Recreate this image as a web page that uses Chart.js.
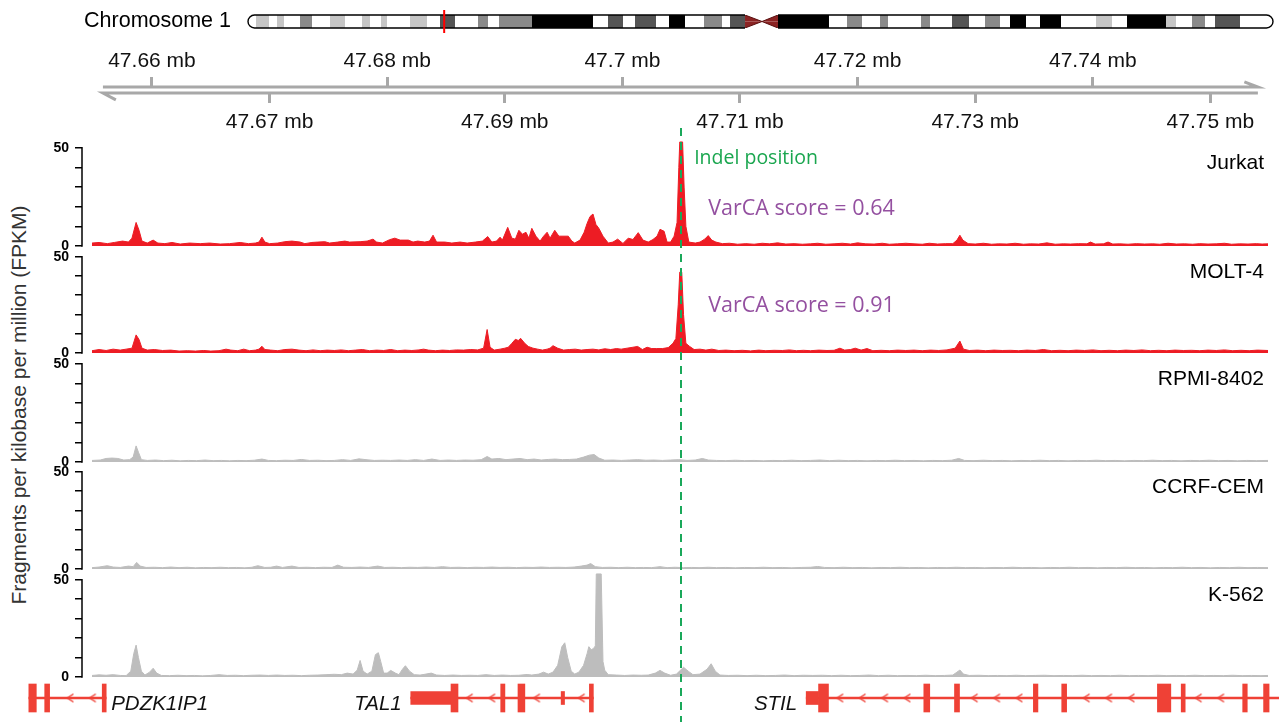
<!DOCTYPE html>
<html lang="en">
<head>
<meta charset="UTF-8">
<script src="https://cdn.jsdelivr.net/npm/chart.js"></script>
<title>TAL1 locus accessibility</title>
<style>
  body { margin: 0; background: #fff; }
  #wrap { position: relative; width: 1284px; height: 722px; overflow: hidden; font-family: "Liberation Sans", Arial, sans-serif; }
  #wrap canvas { position: absolute; left: 0; }
  #ytitle { position: absolute; left: 19px; top: 405px; transform: translate(-50%, -50%) rotate(-90deg);
            white-space: nowrap; font-size: 21px; color: #333; }
</style>
</head>
<body>
<div id="wrap">
  <div id="ytitle">Fragments per kilobase per million (FPKM)</div>
</div>

<script>
// ---- data (track positions are kb from regionStartMb) ----
const regionStartMb = 47.65;
const indelKb = 55.0;
const trackNames = ['Jurkat', 'MOLT-4', 'RPMI-8402', 'CCRF-CEM', 'K-562'];
const varcaScores = [0.64, 0.91, null, null, null];

const jurkat = [[4.9,1.5],[5.5,1.8],[6.2,1.2],[6.8,1.8],[7.5,2.5],[8.0,2.0],[8.3,4],[8.65,12],[8.9,8],[9.15,2.5],[9.6,1.5],[10.1,3],[10.5,1.5],[11.1,1.2],[11.7,1.8],[12.4,1.0],[13.2,1.5],[14.1,1.2],[14.9,1.5],[15.8,1.0],[16.6,1.2],[17.5,1.8],[18.2,1.2],[18.8,1.5],[19.1,2],[19.35,4.5],[19.6,2],[20.0,1.2],[20.7,1.5],[21.3,2.2],[21.9,2.5],[22.6,2],[23.0,1.2],[23.6,1.8],[24.1,2],[24.7,2.2],[25.1,1.5],[25.8,2],[26.4,2.5],[26.8,2],[27.7,2.2],[28.3,2.5],[28.8,3.5],[29.1,2],[29.6,1.5],[30.2,3.2],[30.65,4],[31.1,3],[31.8,3],[32.2,2],[32.6,2.5],[33.2,2],[33.6,2.5],[33.9,5.5],[34.2,2],[34.9,2],[35.5,1.5],[36.2,2],[36.8,1.5],[37.5,2],[38.1,2.5],[38.55,4.8],[38.9,2],[39.3,2.5],[39.6,4.5],[39.8,3],[40.25,9.5],[40.6,4],[40.9,3.5],[41.2,8],[41.5,6],[41.8,7],[42.05,4],[42.3,9],[42.65,5],[43.0,2.5],[43.3,5],[43.6,7],[43.85,4],[44.25,8],[44.6,5],[44.95,5],[45.4,5],[45.7,2.5],[45.95,1.5],[46.4,3],[46.75,7],[47.0,11.5],[47.25,15],[47.5,16.3],[47.75,11],[48.0,9],[48.35,5],[48.8,1.5],[49.2,2],[49.6,3.5],[50.05,1.3],[50.5,4],[50.9,3.3],[51.35,6.8],[51.75,3],[52.2,2],[52.6,3.3],[52.95,5],[53.2,8.5],[53.55,7.5],[53.8,2],[54.1,2],[54.4,5],[54.65,12],[54.8,40],[54.88,53],[55.12,53],[55.25,30],[55.4,10],[55.65,2],[56.2,1.5],[56.6,2],[57.0,3.5],[57.3,5.3],[57.6,3],[57.95,2],[58.5,1.2],[59.1,1.4],[59.8,0.9],[60.5,1.2],[61.2,0.9],[61.9,1.4],[62.5,1.1],[63.2,1.6],[63.9,1.0],[64.6,1.2],[65.3,0.9],[66.0,1.1],[66.6,1.4],[67.3,0.9],[68.0,1.1],[68.7,1.4],[69.4,1.0],[70.0,1.6],[70.7,1.1],[71.4,1.0],[72.1,1.4],[72.7,0.9],[73.4,1.1],[74.1,1.4],[74.8,1.1],[75.5,0.9],[76.1,1.4],[76.8,1.0],[77.5,1.2],[78.1,1.2],[78.45,3],[78.7,5.5],[78.95,3],[79.4,1.2],[80.0,1.0],[80.7,1.4],[81.4,0.9],[82.0,1.1],[82.7,1.0],[83.4,1.4],[84.1,0.9],[84.7,1.1],[85.4,1.0],[86.1,1.6],[86.8,0.9],[87.5,1.1],[88.1,1.0],[88.8,1.2],[89.5,1.1],[89.8,2.0],[90.2,1.0],[90.9,1.1],[91.3,2.0],[91.7,1.0],[92.3,1.1],[93.0,0.9],[93.7,1.2],[94.4,1.0],[95.1,1.1],[95.7,0.9],[96.4,1.4],[97.1,1.0],[97.8,1.1],[98.5,0.9],[99.1,1.2],[99.8,1.0],[100.5,1.1],[101.2,1.4],[101.8,0.9],[102.5,1.1],[103.2,1.0],[103.9,1.2],[104.4,1.0],[104.9,1.1]];

const molt4 = [[4.9,1.2],[5.5,1.8],[6.1,1.3],[6.7,2],[7.3,1.5],[7.8,2],[8.3,2.5],[8.65,9.4],[8.9,7],[9.15,2.5],[9.6,1.5],[10.2,1.8],[10.9,1.3],[11.6,1.5],[12.3,1],[13.0,1.2],[13.7,1],[14.4,1.3],[15.0,1],[15.7,1.2],[16.3,2],[16.7,1.5],[17.3,1.2],[17.8,2],[18.3,1.2],[18.8,1.5],[19.1,2],[19.35,3.5],[19.6,1.8],[20.1,1.5],[20.7,1.2],[21.3,1.8],[21.9,2],[22.5,1.5],[23.1,1.2],[23.7,1.6],[24.3,1.2],[24.9,1.5],[25.5,1.3],[26.1,1.6],[26.7,1.2],[27.3,1.5],[27.9,1.8],[28.5,1.2],[29.1,1.5],[29.7,1.3],[30.3,1.8],[30.9,1.2],[31.5,1.5],[32.1,1.3],[32.7,1.6],[33.1,2],[33.5,1.5],[34.1,1.2],[34.7,1.5],[35.3,1.3],[35.9,1.6],[36.5,1.5],[37.1,1.8],[37.7,1.6],[38.2,2.5],[38.5,12.2],[38.75,3],[39.1,1.5],[39.6,2],[40.0,2.5],[40.3,3],[40.6,5],[40.9,7.1],[41.15,6.5],[41.35,7.6],[41.7,5],[42.0,3.4],[42.4,2.5],[42.8,2],[43.2,1.5],[43.6,2],[43.85,2.5],[44.1,3.8],[44.5,2.5],[45.0,1.5],[45.5,1.8],[46.0,2],[46.5,1.5],[47.0,1.8],[47.5,2],[48.0,1.6],[48.5,2.2],[49.0,1.8],[49.5,2.3],[49.9,2],[50.4,2.5],[50.9,3],[51.3,3.4],[51.7,1.8],[52.1,3],[52.5,2.3],[52.9,2.3],[53.4,2.3],[53.9,2.8],[54.3,5],[54.55,7.5],[54.75,25],[54.88,42],[55.05,42],[55.2,20],[55.4,5],[55.7,3.5],[56.1,1.8],[56.6,2],[57.1,1.5],[57.6,2],[58.2,1.3],[58.8,1.5],[59.5,1.2],[60.2,1.4],[60.9,1.1],[61.6,1.5],[62.2,1.2],[62.9,1.4],[63.6,1.3],[64.2,1.6],[64.8,1.2],[65.4,1.4],[66.0,1.2],[66.7,1.5],[67.4,1.3],[68.0,1.4],[68.5,2.5],[68.9,1.5],[69.4,1.8],[69.8,2.5],[70.3,1.5],[70.8,2.3],[71.3,1.2],[72.0,1.4],[72.7,1.2],[73.4,1.5],[74.1,1.3],[74.8,1.5],[75.5,1.2],[76.2,1.5],[76.9,1.3],[77.6,1.6],[78.3,2.5],[78.7,6.2],[79.0,2],[79.5,1.3],[80.2,1.5],[80.9,1.2],[81.6,1.5],[82.3,1.3],[83.0,1.4],[83.7,1.2],[84.4,1.5],[85.1,1.3],[85.8,1.8],[86.5,1.2],[87.2,1.4],[87.9,1.2],[88.6,1.5],[89.3,1.3],[90.0,1.6],[90.7,1.2],[91.4,1.4],[92.1,1.2],[92.8,1.5],[93.5,1.3],[94.2,1.6],[94.9,1.2],[95.6,1.4],[96.3,1.2],[97.0,1.5],[97.7,1.3],[98.4,1.4],[99.1,1.2],[99.8,1.5],[100.5,1.3],[101.2,1.6],[101.9,1.2],[102.6,1.4],[103.3,1.2],[104.0,1.5],[104.9,1.3]];

const rpmi8402 = [[4.9,0.8],[5.6,1.0],[6.1,1.8],[6.6,2.0],[7.1,1.8],[7.6,1.0],[8.1,1.2],[8.4,2.5],[8.65,8.2],[8.85,5.0],[9.1,1.2],[9.6,0.8],[10.3,1.0],[11.0,0.7],[11.7,0.9],[12.4,0.6],[13.1,0.8],[13.8,0.7],[14.5,1.0],[15.2,0.7],[15.9,0.8],[16.6,0.6],[17.3,0.8],[18.0,0.7],[18.7,0.9],[19.35,1.5],[19.9,0.8],[20.6,0.7],[21.3,0.9],[22.0,0.8],[22.7,1.3],[23.4,0.8],[24.1,0.9],[24.8,0.7],[25.5,0.8],[26.2,1.2],[26.9,0.8],[27.6,1.6],[28.2,1.2],[28.9,0.8],[29.6,0.9],[30.3,0.8],[31.0,1.0],[31.7,0.8],[32.4,1.2],[33.1,0.8],[33.8,1.5],[34.5,0.8],[35.2,1.0],[35.9,0.8],[36.6,1.0],[37.3,0.9],[38.0,1.2],[38.5,2.8],[38.9,1.5],[39.5,1.8],[40.1,1.2],[40.7,1.5],[41.3,1.8],[41.9,1.2],[42.5,1.5],[43.1,1.0],[43.7,1.3],[44.3,1.5],[44.9,1.2],[45.5,1.3],[46.1,1.5],[46.7,2.5],[47.2,3.5],[47.6,3.8],[48.0,2.0],[48.5,0.9],[49.2,1.0],[49.9,0.8],[50.6,1.0],[51.3,1.2],[52.0,0.9],[52.7,1.0],[53.4,0.8],[54.1,1.0],[54.8,1.2],[55.5,0.8],[56.2,1.0],[56.8,1.8],[57.3,1.0],[58.0,0.8],[58.8,0.7],[59.6,0.9],[60.4,0.7],[61.2,0.8],[62.0,0.6],[62.8,0.8],[63.6,0.7],[64.4,0.9],[65.2,0.7],[66.0,0.8],[66.8,1.0],[67.6,0.7],[68.4,0.9],[69.2,0.7],[70.0,0.8],[70.8,0.6],[71.6,0.8],[72.4,0.7],[73.2,0.9],[74.0,0.7],[74.8,0.8],[75.6,0.6],[76.4,0.8],[77.2,0.7],[78.0,0.9],[78.6,1.8],[79.1,0.8],[79.9,0.7],[80.7,0.9],[81.5,0.7],[82.3,0.8],[83.1,0.6],[83.9,0.8],[84.7,0.7],[85.5,0.9],[86.3,0.7],[87.1,0.8],[87.9,0.6],[88.7,0.8],[89.5,0.7],[90.3,0.9],[91.1,0.7],[91.9,0.8],[92.7,0.6],[93.5,0.8],[94.3,0.7],[95.1,0.9],[95.9,0.7],[96.7,0.8],[97.5,0.6],[98.3,0.8],[99.1,0.7],[99.9,0.9],[100.7,0.7],[101.5,0.8],[102.3,0.6],[103.1,0.8],[103.9,0.7],[104.9,0.8]];

const ccrfCem = [[4.9,0.7],[5.5,1.0],[6.2,1.7],[6.7,1.0],[7.3,0.8],[8.0,1.5],[8.4,1.2],[8.7,3.4],[9.0,1.5],[9.5,0.8],[10.2,0.9],[10.9,0.7],[11.6,1.0],[12.3,0.7],[13.0,0.9],[13.7,0.6],[14.4,0.8],[15.1,0.7],[15.8,0.9],[16.5,0.7],[17.2,0.8],[17.9,0.6],[18.5,0.9],[19.0,1.7],[19.6,0.8],[20.1,0.9],[20.6,1.5],[21.1,0.8],[21.9,1.5],[22.5,0.8],[23.2,0.9],[23.9,0.7],[24.6,0.9],[25.3,0.8],[25.8,2.0],[26.3,0.9],[27.0,0.8],[27.7,1.0],[28.4,0.8],[29.2,1.5],[29.8,0.8],[30.5,0.9],[31.2,0.7],[31.9,0.9],[32.6,0.8],[33.3,1.0],[34.0,0.8],[34.7,1.2],[35.4,0.8],[36.1,0.9],[36.8,0.7],[37.5,0.9],[38.2,0.8],[38.9,1.0],[39.6,0.8],[40.3,0.9],[41.0,0.7],[41.7,0.9],[42.4,0.8],[43.1,1.0],[43.8,0.8],[44.5,0.9],[45.2,0.8],[45.9,1.0],[46.5,1.5],[47.0,2.0],[47.3,2.8],[47.7,1.2],[48.3,0.8],[49.0,0.9],[49.7,0.7],[50.4,0.9],[51.1,0.7],[51.8,0.8],[52.5,0.7],[53.2,1.2],[53.8,0.7],[54.5,0.9],[55.2,0.7],[55.9,0.8],[56.6,0.7],[57.3,0.9],[58.0,0.7],[58.8,0.8],[59.6,0.6],[60.4,0.8],[61.2,0.7],[62.0,0.9],[62.8,0.7],[63.6,0.8],[64.4,0.6],[65.2,0.8],[66.0,0.9],[66.6,1.3],[67.2,0.8],[68.0,0.7],[68.8,0.9],[69.6,0.7],[70.4,0.8],[71.2,0.6],[72.0,0.8],[72.8,0.7],[73.6,0.9],[74.4,0.7],[75.2,0.8],[76.0,0.6],[76.8,0.8],[77.6,0.7],[78.4,0.9],[79.2,0.7],[80.0,0.8],[80.8,0.6],[81.6,0.8],[82.4,0.7],[83.2,0.9],[84.0,0.7],[84.8,0.8],[85.6,0.6],[86.4,0.8],[87.2,0.7],[88.0,0.9],[88.8,0.7],[89.6,0.8],[90.4,0.6],[91.2,0.8],[92.0,0.7],[92.8,0.9],[93.6,0.7],[94.4,0.8],[95.2,0.6],[96.0,0.8],[96.8,0.7],[97.6,0.9],[98.4,0.7],[99.2,0.8],[100.0,0.6],[100.8,0.8],[101.6,0.7],[102.4,0.9],[103.2,0.7],[104.0,0.8],[104.9,0.7]];

const k562 = [[4.9,0.8],[5.5,1.1],[6.1,0.9],[6.7,1.2],[7.3,0.8],[7.8,0.7],[8.2,3],[8.45,12],[8.65,16.4],[8.85,10],[9.1,3],[9.4,1],[9.8,2.5],[10.1,4.5],[10.4,2],[10.8,0.8],[11.5,0.7],[12.2,0.9],[12.9,0.7],[13.6,0.8],[14.3,0.6],[15.0,0.8],[15.7,1.2],[16.4,0.8],[17.1,0.9],[17.8,0.7],[18.5,0.9],[19.2,1],[19.9,0.8],[20.6,1],[21.3,0.8],[22.0,0.9],[22.7,0.7],[23.4,0.9],[24.1,1],[24.8,1.2],[25.5,1.4],[26.1,1.2],[26.6,2],[27.1,1.5],[27.45,3.5],[27.7,8.5],[27.95,3],[28.3,1.5],[28.7,3],[29.0,11.5],[29.25,12.5],[29.45,8],[29.7,2],[30.0,2],[30.3,3.4],[30.7,2],[31.0,1.2],[31.3,4],[31.55,5.8],[31.9,3],[32.3,1.2],[32.8,1],[33.3,1.5],[33.75,2],[34.2,1],[34.9,0.8],[35.6,1],[36.3,0.8],[37.0,0.9],[37.7,0.8],[38.4,1.2],[39.1,0.8],[39.8,1],[40.5,0.8],[41.2,0.9],[41.9,1.3],[42.3,1],[42.9,1.5],[43.3,2.5],[43.7,1.5],[44.1,2.5],[44.5,6],[44.85,15.5],[45.1,17.6],[45.35,10],[45.65,3],[45.95,1.5],[46.3,2.5],[46.7,6],[47.0,12],[47.15,15.6],[47.35,14],[47.55,14.7],[47.7,16],[47.78,53],[48.2,53],[48.35,8],[48.5,3.5],[48.8,1.2],[49.5,1],[50.2,0.8],[50.9,1],[51.6,0.9],[52.2,1],[52.8,2],[53.2,3.4],[53.6,2],[54.1,0.9],[54.6,1.5],[55.2,5],[55.6,3],[56.0,1.2],[56.6,1.5],[57.2,4],[57.55,6.8],[57.9,3],[58.3,1.0],[59.0,0.8],[59.8,0.9],[60.6,0.7],[61.4,0.9],[62.2,0.7],[63.0,0.8],[63.8,1.0],[64.6,0.7],[65.4,0.9],[66.2,0.8],[67.0,0.9],[67.8,0.7],[68.6,0.9],[69.4,0.7],[70.2,0.8],[71.0,1.0],[71.8,0.7],[72.6,0.9],[73.4,0.7],[74.2,0.8],[75.0,0.7],[75.8,0.9],[76.6,0.7],[77.4,0.8],[78.1,1.0],[78.45,2.5],[78.7,3.6],[79.0,1.5],[79.5,0.8],[80.3,0.9],[81.1,0.7],[81.9,0.8],[82.7,0.7],[83.5,0.9],[84.3,0.7],[85.1,0.8],[85.9,0.9],[86.7,0.7],[87.5,0.8],[88.3,0.7],[89.1,0.9],[89.9,0.7],[90.7,0.8],[91.5,0.7],[92.3,0.9],[93.1,0.7],[93.9,0.8],[94.7,0.7],[95.5,0.9],[96.3,0.7],[97.1,0.8],[97.9,0.7],[98.7,0.9],[99.5,0.7],[100.3,0.8],[101.1,0.7],[101.9,0.9],[102.7,0.7],[103.5,0.8],[104.3,0.7],[104.9,0.8]];

const trackData = [jurkat, molt4, rpmi8402, ccrfCem, k562];
const yTicks = [0, 10, 20, 30, 40, 50];
const yTickLabels = [0, 50];

const axisTopTicksMb = [47.66, 47.68, 47.70, 47.72, 47.74];
const axisBottomTicksMb = [47.67, 47.69, 47.71, 47.73, 47.75];

// genes: spans and exons in kb from regionStartMb
const geneNames = ['PDZK1IP1', 'TAL1', 'STIL'];
const geneSpans = [[-0.88, 5.75], [31.85, 47.5], [65.74, 129.8]];
const geneLabelSide = ['right', 'left', 'left'];
const geneExons = [
  [[-0.88, -0.24, 'cds'], [0.48, 0.9, 'cds'], [5.41, 5.75, 'cds']],
  [[31.85, 35.3, 'utr'], [35.3, 35.9, 'cds'], [39.56, 39.92, 'cds'], [41.04, 41.63, 'cds'], [44.74, 45.03, 'utr'], [47.16, 47.5, 'cds']],
  [[65.74, 66.8, 'utr'], [66.8, 67.65, 'cds'], [75.82, 76.33, 'cds'], [78.45, 78.88, 'cds'], [85.21, 85.6, 'cds'], [87.64, 88.06, 'cds'],
   [95.84, 96.99, 'cds'], [97.88, 98.22, 'cds'], [103.15, 103.54, 'cds'], [104.94, 105.41, 'cds']]
];

// chromosome 1 ideogram, Mb
const chr1LengthMb = 249.25;
const centromereMb = [120.86, 124.99, 128.88];
const cytoBands = [
  [0,1.95,'gneg'],[1.95,5.11,'gpos25'],[5.11,7.05,'gneg'],[7.05,8.75,'gpos25'],[8.75,12.64,'gneg'],[12.64,15.56,'gpos50'],
  [15.56,19.94,'gneg'],[19.94,23.59,'gpos25'],[23.59,27.72,'gneg'],[27.72,29.67,'gpos25'],[29.67,32.34,'gneg'],[32.34,33.8,'gpos25'],
  [33.8,39.39,'gneg'],[39.39,43.53,'gpos25'],[43.53,46.69,'gneg'],[46.69,50.34,'gpos75'],[50.34,55.93,'gneg'],[55.93,58.36,'gpos50'],
  [58.36,61.04,'gneg'],[61.04,69.06,'gpos50'],[69.06,83.89,'gpos100'],[83.89,87.54,'gneg'],[87.54,91.19,'gpos75'],[91.19,94.11,'gneg'],
  [94.11,99.21,'gpos75'],[99.21,102.38,'gneg'],[102.38,106.27,'gpos100'],[106.27,110.89,'gneg'],[110.89,115.26,'gpos50'],[115.26,117.21,'gneg'],
  [117.21,120.86,'gpos75'],[128.88,141.28,'gvar'],[141.28,145.66,'gneg'],[145.66,149.31,'gpos50'],[149.31,153.68,'gneg'],[153.68,155.63,'gpos50'],
  [155.63,163.66,'gneg'],[163.66,165.84,'gpos50'],[165.84,171.19,'gneg'],[171.19,175.33,'gpos75'],[175.33,179.22,'gneg'],[179.22,182.86,'gpos50'],
  [182.86,185.3,'gneg'],[185.3,189.19,'gpos100'],[189.19,192.59,'gneg'],[192.59,197.7,'gpos100'],[197.7,206.21,'gneg'],[206.21,210.1,'gpos25'],
  [210.1,213.75,'gneg'],[213.75,223.23,'gpos100'],[223.23,225.66,'gpos25'],[225.66,229.55,'gneg'],[229.55,232.71,'gpos50'],[232.71,235.15,'gneg'],
  [235.15,241.22,'gpos75'],[241.22,249.25,'gneg']
];

// ---- layout / style ----
const W = 1284;
const viewStartKb = 4.05, viewEndKb = 104.9;      // spans x = 82 .. 1268
const plotLeft = 82, plotRight = 1268;
const kbPerPx = (viewEndKb - viewStartKb) / (plotRight - plotLeft);
const fullMin = viewStartKb - plotLeft * kbPerPx, fullMax = viewEndKb + (W - plotRight) * kbPerPx;
const trackY50 = [148, 257, 364, 472, 580];
const trackY0 = [246, 353, 462, 569, 677];
const trackYMax = 54;
const trackColors = ['#ed1c24', '#ed1c24', '#bdbdbd', '#bdbdbd', '#bdbdbd'];
const scoreYOffset = [61, 49];
const geneColor = '#ef4136';
const stainColors = { gneg: '#ffffff', gpos25: '#c6c6c6', gpos50: '#8a8a8a', gpos75: '#555555', gpos100: '#000000', gvar: '#000000' };
const FONT = '"Liberation Sans", Arial, sans-serif';

Chart.defaults.font.family = FONT;
Chart.defaults.animation = false;

const wrap = document.getElementById('wrap');
function makeCanvas(top, height) {
  const c = document.createElement('canvas');
  c.width = W; c.height = height;
  c.style.top = top + 'px';
  wrap.appendChild(c);
  return c;
}
const kbToMb = kb => regionStartMb + kb / 1000;
const mbToKb = mb => (mb - regionStartMb) * 1000;

// ---- ideogram ----
const ideoCanvas = makeCanvas(6, 32);
const ideoSets = cytoBands.map(([s, e, st]) => ({
  data: [{ x: s, y: 1 }, { x: e, y: 1 }], fill: 'origin', backgroundColor: stainColors[st],
  borderWidth: 0, pointRadius: 0
}));
const cenColor = '#8b2323';
ideoSets.push({ data: [{ x: centromereMb[0], y: 1 }, { x: centromereMb[1], y: 0.5 }, { x: centromereMb[2], y: 1 }],
  fill: { value: 0.5 }, backgroundColor: cenColor, borderColor: '#5a1010', borderWidth: 1, pointRadius: 0 });
ideoSets.push({ data: [{ x: centromereMb[0], y: 0 }, { x: centromereMb[1], y: 0.5 }, { x: centromereMb[2], y: 0 }],
  fill: { value: 0.5 }, backgroundColor: cenColor, borderColor: '#5a1010', borderWidth: 1, pointRadius: 0 });

new Chart(ideoCanvas, {
  type: 'line',
  data: { datasets: ideoSets },
  options: {
    responsive: false,
    layout: { padding: { left: 248, right: 11, top: 9, bottom: 10 } },
    plugins: { legend: { display: false }, tooltip: { enabled: false } },
    scales: {
      x: { type: 'linear', min: 0, max: chr1LengthMb, display: false },
      y: { min: 0, max: 1, display: false }
    }
  },
  plugins: [{
    id: 'ideoDecor',
    afterDatasetsDraw(chart) {
      const { ctx, chartArea: a, scales: { x } } = chart;
      const top = a.top, bot = a.bottom, r = (bot - top) / 2;
      const pL = x.getPixelForValue(0), cL = x.getPixelForValue(centromereMb[0]);
      const cR = x.getPixelForValue(centromereMb[2]), qR = x.getPixelForValue(chr1LengthMb);
      ctx.save();
      ctx.strokeStyle = '#000'; ctx.lineWidth = 1.4;
      ctx.beginPath();
      ctx.moveTo(cL, top); ctx.lineTo(pL + r, top);
      ctx.arc(pL + r, top + r, r, -Math.PI / 2, Math.PI / 2, true);
      ctx.lineTo(cL, bot);
      ctx.moveTo(cR, top); ctx.lineTo(qR - r, top);
      ctx.arc(qR - r, top + r, r, -Math.PI / 2, Math.PI / 2, false);
      ctx.lineTo(cR, bot);
      ctx.stroke();
      const mx = x.getPixelForValue(kbToMb((viewStartKb + viewEndKb) / 2));
      ctx.strokeStyle = '#ff0000'; ctx.lineWidth = 2;
      ctx.beginPath(); ctx.moveTo(mx, top - 5); ctx.lineTo(mx, bot + 5); ctx.stroke();
      ctx.fillStyle = '#000'; ctx.font = '21.5px ' + FONT;
      ctx.textAlign = 'right'; ctx.textBaseline = 'middle';
      ctx.fillText('Chromosome 1', a.left - 17, (top + bot) / 2);
      ctx.restore();
    }
  }]
});

// ---- genome axis ----
const axisCanvas = makeCanvas(40, 92);
const axisFromKb = 5.83, axisToKb = 104.04;
const axisGrey = '#a8a8a8';
const fmtMb = v => `${+kbToMb(v).toFixed(2)} mb`;
function axisScale(pos, ticksMb, h, pad) {
  return {
    type: 'linear', position: pos, min: viewStartKb, max: viewEndKb,
    afterFit: s => { s.height = h; },
    afterBuildTicks: s => { s.ticks = ticksMb.map(m => ({ value: mbToKb(m) })); },
    ticks: { callback: v => fmtMb(v), font: { size: 21 }, color: '#111', padding: pad, maxRotation: 0, autoSkip: false },
    grid: { drawOnChartArea: false, tickLength: 10, color: axisGrey, lineWidth: 3 },
    border: { display: false }
  };
}
new Chart(axisCanvas, {
  type: 'line',
  data: { datasets: [
    { data: [{ x: axisFromKb, y: 1 }, { x: axisToKb, y: 1 }, { x: axisToKb - 1.15, y: 1.85 }],
      borderColor: axisGrey, borderWidth: 3, pointRadius: 0, clip: false, fill: false },
    { data: [{ x: axisFromKb + 1.1, y: -1.15 }, { x: axisFromKb, y: 0 }, { x: axisToKb, y: 0 }],
      borderColor: axisGrey, borderWidth: 3, pointRadius: 0, clip: false, fill: false }
  ] },
  options: {
    responsive: false,
    layout: { padding: { left: plotLeft, right: W - plotRight, top: 0, bottom: 0 } },
    plugins: { legend: { display: false }, tooltip: { enabled: false } },
    scales: {
      x: axisScale('top', axisTopTicksMb, 47, 3),
      x2: axisScale('bottom', axisBottomTicksMb, 39, 7),
      y: { min: 0, max: 1, display: false }
    }
  }
});

// ---- coverage tracks ----
const charts = [];
trackNames.forEach((name, i) => {
  const y50 = trackY50[i], y0 = trackY0[i];
  const ppu = (y0 - y50) / 50;
  const areaTop = Math.round(y0 - trackYMax * ppu);
  const pad = 20;
  const canvas = makeCanvas(areaTop - pad, y0 - areaTop + 2 * pad);
  const color = trackColors[i];
  charts.push(new Chart(canvas, {
    type: 'line',
    data: { datasets: [{
      data: trackData[i].map(([kb, v]) => ({ x: kb, y: v })),
      fill: 'origin', backgroundColor: color, borderColor: color, borderWidth: 1,
      pointRadius: 0, tension: 0, clip: false
    }] },
    options: {
      responsive: false,
      layout: { padding: { top: pad, bottom: pad, left: 0, right: W - plotRight } },
      plugins: { legend: { display: false }, tooltip: { enabled: false } },
      scales: {
        x: { type: 'linear', min: viewStartKb, max: viewEndKb, display: false },
        y: {
          min: 0, max: trackYMax,
          afterFit: s => { s.width = plotLeft; },
          afterBuildTicks: s => { s.ticks = yTicks.map(v => ({ value: v })); },
          ticks: { callback: v => yTickLabels.includes(v) ? String(v) : '', font: { size: 14, weight: 'bold' },
                   color: '#000', padding: 6, autoSkip: false },
          grid: { drawOnChartArea: false, tickLength: 7, color: '#000', lineWidth: 1.5 },
          border: { display: false }
        }
      }
    },
    plugins: [{
      id: 'trackDecor',
      afterDatasetsDraw(chart) {
        const { ctx, chartArea: a, scales: { x, y } } = chart;
        const top50 = y.getPixelForValue(50);
        ctx.save();
        ctx.strokeStyle = '#000'; ctx.lineWidth = 1.5;
        ctx.beginPath(); ctx.moveTo(a.left, y.getPixelForValue(0) + 0.75); ctx.lineTo(a.left, top50 - 0.75); ctx.stroke();
        ctx.fillStyle = '#000'; ctx.font = '21px ' + FONT;
        ctx.textAlign = 'right'; ctx.textBaseline = 'middle';
        ctx.fillText(name, a.right - 4, top50 + 15);
        const ix = x.getPixelForValue(indelKb);
        ctx.textAlign = 'left';
        if (i === 0) {
          ctx.fillStyle = '#1aa64f'; ctx.font = '19.5px "Open Sans", sans-serif';
          ctx.fillText('Indel position', ix + 13, top50 + 11);
        }
        if (varcaScores[i] !== null) {
          ctx.fillStyle = '#9450a0'; ctx.font = '21.5px "Open Sans", sans-serif';
          ctx.fillText(`VarCA score = ${varcaScores[i].toFixed(2)}`, ix + 27, top50 + scoreYOffset[i]);
        }
        ctx.restore();
      }
    }]
  }));
});

// ---- gene track ----
const geneCanvas = makeCanvas(678, 40);
const chev = document.createElement('canvas');
chev.width = 9; chev.height = 11;
(() => {
  const g = chev.getContext('2d');
  g.strokeStyle = geneColor; g.lineWidth = 1.5;
  g.beginPath(); g.moveTo(7.5, 1.5); g.lineTo(1.5, 5.5); g.lineTo(7.5, 9.5); g.stroke();
})();
const intronBars = geneSpans.map(([s, e]) => ({ x: [s, e], y: 'genes' }));
const utrBars = [], cdsBars = [], chevPts = [];
geneExons.forEach((exs, gi) => {
  exs.forEach(([s, e, t]) => (t === 'utr' ? utrBars : cdsBars).push({ x: [s, e], y: 'genes' }));
  // strand arrows every ~1.9 kb along the intron line, skipped where they hit an exon
  let blockEnd = exs[0][1];
  exs.forEach(([s, e]) => { if (s <= blockEnd + 0.05) blockEnd = Math.max(blockEnd, e); });
  for (let p = blockEnd + 1.0; p < geneSpans[gi][1]; p += 1.92) {
    if (!exs.some(([s, e]) => p + 0.43 > s && p - 0.43 < e)) chevPts.push({ x: p, y: 'genes' });
  }
});
new Chart(geneCanvas, {
  type: 'bar',
  data: { datasets: [
    { type: 'bar', indexAxis: 'y', data: cdsBars, backgroundColor: geneColor, barThickness: 28, grouped: false, order: 0 },
    { type: 'bar', indexAxis: 'y', data: utrBars, backgroundColor: geneColor, barThickness: 13, grouped: false, order: 1 },
    { type: 'scatter', data: chevPts, pointStyle: chev, pointRadius: 4, order: 2 },
    { type: 'bar', indexAxis: 'y', data: intronBars, backgroundColor: geneColor, barThickness: 2, grouped: false, order: 3 }
  ] },
  options: {
    responsive: false,
    layout: { padding: 0 },
    plugins: { legend: { display: false }, tooltip: { enabled: false } },
    scales: {
      x: { type: 'linear', min: fullMin, max: fullMax, offset: false, grid: { offset: false }, display: false },
      y: { type: 'category', labels: ['genes'], offset: true, display: false }
    }
  },
  plugins: [{
    id: 'geneNames',
    afterDatasetsDraw(chart) {
      const { ctx, scales: { x, y } } = chart;
      const cy = y.getPixelForValue(0) + 6;
      ctx.save();
      ctx.fillStyle = '#111'; ctx.font = 'italic 20.5px ' + FONT; ctx.textBaseline = 'middle';
      geneNames.forEach((n, gi) => {
        if (geneLabelSide[gi] === 'right') {
          ctx.textAlign = 'left'; ctx.fillText(n, x.getPixelForValue(geneSpans[gi][1]) + 5, cy);
        } else {
          ctx.textAlign = 'right'; ctx.fillText(n, x.getPixelForValue(geneSpans[gi][0]) - 9, cy);
        }
      });
      ctx.restore();
    }
  }]
});

// ---- indel marker across all panels ----
const over = makeCanvas(0, 722);
(() => {
  const g = over.getContext('2d');
  const ix = Math.round(charts[0].scales.x.getPixelForValue(indelKb));
  g.strokeStyle = '#1aa85a'; g.lineWidth = 2; g.setLineDash([8, 6]);
  g.beginPath(); g.moveTo(ix, 128); g.lineTo(ix, 722); g.stroke();
})();
</script>
</body>
</html>
